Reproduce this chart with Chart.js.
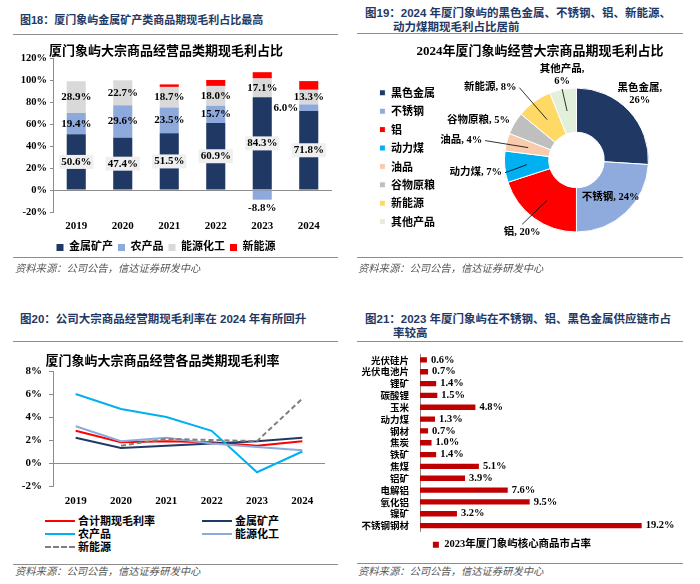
<!DOCTYPE html>
<html>
<head>
<meta charset="utf-8">
<script src="https://cdn.jsdelivr.net/npm/chart.js@4.4.1/dist/chart.umd.min.js"></script>
<style>
  body { margin: 0; width: 700px; height: 584px; overflow: hidden; background: #fff; position: relative;
         font-family: "Liberation Serif", "Noto Sans CJK SC", serif; }
  .ttl { position: absolute; color: #1F3864; font-weight: bold; font-size: 11.5px; line-height: 14px;
         font-family: "Liberation Sans", "Noto Sans CJK SC", sans-serif; white-space: nowrap; }
  .rule { position: absolute; height: 0; border-top: 1.5px solid #8c8c8c; }
  .src { position: absolute; font-style: italic; color: #555; font-size: 10.3px; line-height: 12px;
         font-family: "Noto Sans CJK SC", sans-serif; }
  .cv { position: absolute; }
  .lg { position: absolute; font: bold 11px "Noto Sans CJK SC", sans-serif; color: #000; line-height: 13px; }
  .lg span.ln { position: absolute; width: 30px; top: 6px; border-top: 2.5px solid; }
  .lg span.tx { position: absolute; left: 33px; top: 0; white-space: nowrap; }
</style>
</head>
<body>

<div class="ttl" style="left:20px;top:13px;font-size:11px;">图18：厦门象屿金属矿产类商品期现毛利占比最高</div>
<div class="rule" style="left:13px;top:34px;width:325px;"></div>
<div class="cv" style="left:0;top:38px;"><canvas id="shareChart" width="345" height="225"></canvas></div>
<div class="rule" style="left:13px;top:257px;width:325px;"></div>
<div class="src" style="left:15px;top:262px;">资料来源：公司公告，信达证券研发中心</div>

<div class="ttl" style="left:365px;top:6px;">图19：2024 年厦门象屿的黑色金属、不锈钢、铝、新能源、<br><span style="padding-left:28px">动力煤期现毛利占比居前</span></div>
<div class="rule" style="left:357px;top:33px;width:326px;"></div>
<div class="cv" style="left:350px;top:38px;"><canvas id="pieChart" width="360" height="218"></canvas></div>
<div class="rule" style="left:357px;top:257px;width:326px;"></div>
<div class="src" style="left:358px;top:262px;">资料来源：公司公告，信达证券研发中心</div>

<div class="ttl" style="left:20px;top:312px;">图20：公司大宗商品经营期现毛利率在 2024 年有所回升</div>
<div class="rule" style="left:13px;top:341px;width:325px;"></div>
<div class="cv" style="left:0;top:345px;"><canvas id="marginChart" width="345" height="165"></canvas></div>
<div class="lg" style="left:45px;top:514px;">
  <div style="position:absolute;left:0;top:0;"><span class="ln" style="border-color:#FF0000"></span><span class="tx">合计期现毛利率</span></div>
  <div style="position:absolute;left:157px;top:0;"><span class="ln" style="border-color:#1F3864"></span><span class="tx">金属矿产</span></div>
  <div style="position:absolute;left:0;top:13px;"><span class="ln" style="border-color:#00B0F0"></span><span class="tx">农产品</span></div>
  <div style="position:absolute;left:157px;top:13px;"><span class="ln" style="border-color:#8EA9DB"></span><span class="tx">能源化工</span></div>
  <div style="position:absolute;left:0;top:26px;"><span class="ln" style="border-color:#7F7F7F;border-top-style:dashed"></span><span class="tx">新能源</span></div>
</div>
<div class="rule" style="left:13px;top:564px;width:325px;"></div>
<div class="src" style="left:15px;top:565px;">资料来源：公司公告，信达证券研发中心</div>

<div class="ttl" style="left:365px;top:312px;">图21：2023 年厦门象屿在不锈钢、铝、黑色金属供应链市占<br><span style="padding-left:28px">率较高</span></div>
<div class="rule" style="left:357px;top:341px;width:326px;"></div>
<div class="cv" style="left:350px;top:345px;"><canvas id="marketChart" width="350" height="215"></canvas></div>
<div class="rule" style="left:357px;top:563px;width:326px;"></div>
<div class="src" style="left:358px;top:565px;">资料来源：公司公告，信达证券研发中心</div>

<script>
// 图18 stacked shares
var years = ["2019", "2020", "2021", "2022", "2023", "2024"];
var metalShare = [50.6, 47.4, 51.5, 60.9, 84.3, 71.8];
var agriShare = [19.4, 29.6, 23.5, 15.7, -8.8, 6.0];
var energyShare = [28.9, 22.7, 18.7, 18.0, 17.1, 13.3];
var newEnergyShare = [0, 0, 2.3, 5.4, 5.7, 7.9];

// 图19 doughnut
var pieLabels = ["黑色金属", "不锈钢", "铝", "动力煤", "油品", "谷物原粮", "新能源", "其他产品"];
var pieValues = [26, 24, 20, 7, 4, 5, 8, 6];

// 图20 margins
var totalMargin = [2.8, 1.8, 1.9, 1.8, 1.5, 1.9];
var metalMargin = [2.2, 1.3, 1.5, 1.7, 1.9, 2.2];
var agriMargin = [6.0, 4.7, 4.0, 2.8, -0.8, 1.0];
var energyMargin = [3.2, 1.9, 2.2, 1.7, 1.4, 1.1];
var newEnergyMargin = [null, 1.5, 2.1, 2.0, 1.9, 5.6];

// 图21 market share
var products = ["光伏硅片", "光伏电池片", "锂矿", "碳酸锂", "玉米", "动力煤", "钢材", "焦炭", "铁矿", "焦煤", "铝矿", "电解铝", "氧化铝", "镍矿", "不锈钢钢材"];
var marketShare = [0.6, 0.7, 1.4, 1.5, 4.8, 1.3, 0.7, 1.0, 1.4, 5.1, 3.9, 7.6, 9.5, 3.2, 19.2];

Chart.defaults.font.family = '"Liberation Serif", "Noto Sans CJK SC", serif';
Chart.defaults.color = "#000";
Chart.defaults.animation = false;

var axisGrey = "#8c8c8c";
var zeroLine = function (c) { return c.tick.value === 0 ? axisGrey : "rgba(0,0,0,0)"; };

// labels inside stacked bars
var shareLabels = {
  id: "shareLabels",
  afterDatasetsDraw: function (chart) {
    var ctx = chart.ctx;
    ctx.save();
    ctx.font = 'bold 11px "Liberation Serif"';
    ctx.textBaseline = "middle";
    chart.data.datasets.forEach(function (ds, i) {
      if (ds.noLabel) return;
      chart.getDatasetMeta(i).data.forEach(function (bar, j) {
        var v = ds.data[j];
        var txt = v.toFixed(1) + "%";
        var x = bar.x, y = (bar.y + bar.base) / 2;
        ctx.textAlign = "center";
        if (v < 0 && v > -10) {
          y = bar.y + 8;
        } else if (v > 0 && v < 10) {
          x = bar.x - bar.width / 2 - 1;
          ctx.textAlign = "right";
        }
        if (ds.boxed) {
          var w = ctx.measureText(txt).width + 4;
          ctx.fillStyle = "#EFEFEF";
          ctx.fillRect(x - w / 2, y - 7, w, 14);
        }
        ctx.fillStyle = "#000";
        ctx.fillText(txt, x, y);
      });
    });
    ctx.restore();
  }
};

new Chart(document.getElementById("shareChart").getContext("2d"), {
  type: "bar",
  data: {
    labels: years,
    datasets: [
      { label: "金属矿产", data: metalShare, backgroundColor: "#1F3864", boxed: true },
      { label: "农产品", data: agriShare, backgroundColor: "#8EA9DB" },
      { label: "能源化工", data: energyShare, backgroundColor: "#D9D9D9" },
      { label: "新能源", data: newEnergyShare, backgroundColor: "#FF0000", noLabel: true },
    ],
  },
  options: {
    responsive: false,
    layout: { padding: { left: 0, right: 13, top: 0, bottom: 0 } },
    datasets: { bar: { barPercentage: 0.41, categoryPercentage: 1 } },
    scales: {
      x: {
        stacked: true,
        grid: { display: false },
        border: { display: false },
        ticks: { font: { size: 11, weight: "bold" }, padding: 0 },
        afterFit: function (s) { s.height = 25; },
      },
      y: {
        stacked: true,
        min: -20, max: 120,
        ticks: { stepSize: 20, font: { size: 10.5, weight: "bold" }, padding: 3,
                 callback: function (v) { return v + "%"; } },
        grid: { color: zeroLine, tickColor: axisGrey, tickLength: 3 },
        border: { display: true, color: axisGrey },
        afterFit: function (s) { s.width = 53; },
      },
    },
    plugins: {
      title: { display: true, text: "厦门象屿大宗商品经营品类期现毛利占比",
               font: { size: 13, weight: "bold", lineHeight: 1 }, padding: { top: 7, bottom: 0 } },
      legend: { position: "bottom",
                labels: { boxWidth: 7, boxHeight: 7, padding: 5, font: { size: 11, weight: "bold" } } },
      tooltip: { enabled: false },
    },
  },
  plugins: [shareLabels],
});

// doughnut labels with leader lines
var pieTextOffsets = [[27, -32], [0, 1], [-25, 32], [-51, 8], [-67, -7], [-55, -14], [-57, -32], [-5, -36]];
var pieLeader = [false, false, true, true, true, false, true, true];
var pieLabelPlugin = {
  id: "pieLabelPlugin",
  afterDatasetsDraw: function (chart) {
    var ctx = chart.ctx;
    ctx.save();
    ctx.font = 'bold 10.5px "Liberation Serif", "Noto Sans CJK SC"';
    ctx.textAlign = "center";
    ctx.textBaseline = "middle";
    chart.getDatasetMeta(0).data.forEach(function (arc, i) {
      var p = arc.getCenterPoint();
      var off = pieTextOffsets[i];
      var lx = p.x + off[0], ly = p.y + off[1];
      var lines = (i === 0 || i === 7)
        ? [pieLabels[i] + ",", pieValues[i] + "%"]
        : [pieLabels[i] + ", " + pieValues[i] + "%"];
      var w = 0;
      lines.forEach(function (t) { w = Math.max(w, ctx.measureText(t).width); });
      var h = lines.length * 12;
      if (pieLeader[i]) {
        var ex, ey;
        if (Math.abs(off[0]) > Math.abs(off[1])) {
          ex = lx + (off[0] < 0 ? w / 2 + 3 : -w / 2 - 3); ey = ly;
        } else {
          ex = lx; ey = ly + (off[1] < 0 ? h / 2 + 2 : -h / 2 - 2);
        }
        ctx.strokeStyle = "#000";
        ctx.lineWidth = 0.8;
        ctx.beginPath();
        ctx.moveTo(p.x, p.y);
        ctx.lineTo(ex, ey);
        ctx.stroke();
      }
      ctx.fillStyle = "#000";
      lines.forEach(function (t, k) {
        ctx.fillText(t, lx, ly - h / 2 + 6 + k * 12);
      });
    });
    ctx.restore();
  }
};

new Chart(document.getElementById("pieChart").getContext("2d"), {
  type: "doughnut",
  data: {
    labels: pieLabels,
    datasets: [{
      data: pieValues,
      backgroundColor: ["#203864", "#8FAADC", "#FF0000", "#00B0F0", "#F8CBAD", "#BFBFBF", "#FFD966", "#E2EFDA"],
      borderColor: "#fff",
      borderWidth: 1,
      radius: 72,
      cutout: 36,
    }],
  },
  options: {
    responsive: false,
    layout: { padding: { left: 22, right: 2, top: 0, bottom: 2 } },
    plugins: {
      title: { display: true, text: "2024年厦门象屿经营大宗商品期现毛利占比",
               font: { size: 13, weight: "bold", lineHeight: 1 }, padding: { top: 7, bottom: 8 } },
      legend: { position: "left",
                title: { display: true, text: " ", font: { size: 12 }, padding: 4 },
                labels: { boxWidth: 6, boxHeight: 6, padding: 7.4,
                          font: { size: 11, weight: "bold", family: '"Noto Sans CJK SC"' } } },
      tooltip: { enabled: false },
    },
  },
  plugins: [pieLabelPlugin],
});

new Chart(document.getElementById("marginChart").getContext("2d"), {
  type: "line",
  data: {
    labels: years,
    datasets: [
      { label: "新能源", data: newEnergyMargin, borderColor: "#7F7F7F", borderDash: [5, 3] },
      { label: "能源化工", data: energyMargin, borderColor: "#8EA9DB" },
      { label: "农产品", data: agriMargin, borderColor: "#00B0F0" },
      { label: "金属矿产", data: metalMargin, borderColor: "#1F3864" },
      { label: "合计期现毛利率", data: totalMargin, borderColor: "#FF0000" },
    ],
  },
  options: {
    responsive: false,
    layout: { padding: { left: 0, right: 20, top: 0, bottom: 0 } },
    elements: { point: { radius: 0 }, line: { borderWidth: 2, tension: 0 } },
    scales: {
      x: {
        offset: true,
        grid: { display: false },
        border: { display: false },
        ticks: { font: { size: 11, weight: "bold" }, padding: 1 },
        afterFit: function (s) { s.height = 24; },
      },
      y: {
        min: -2, max: 8,
        ticks: { stepSize: 2, font: { size: 11, weight: "bold" }, padding: 7,
                 callback: function (v) { return v + "%"; } },
        grid: { color: zeroLine, tickColor: axisGrey, tickLength: 4 },
        border: { display: true, color: axisGrey },
        afterFit: function (s) { s.width = 53; },
      },
    },
    plugins: {
      title: { display: true, text: "厦门象屿大宗商品经营各品类期现毛利率",
               font: { size: 13, weight: "bold", lineHeight: 1 }, padding: { top: 10, bottom: 3 } },
      legend: { display: false },
      tooltip: { enabled: false },
    },
  },
});

var valueLabels = {
  id: "valueLabels",
  afterDatasetsDraw: function (chart) {
    var ctx = chart.ctx;
    ctx.save();
    ctx.font = 'bold 10.5px "Liberation Serif"';
    ctx.textAlign = "left";
    ctx.textBaseline = "middle";
    ctx.fillStyle = "#000";
    chart.getDatasetMeta(0).data.forEach(function (bar, j) {
      ctx.fillText(chart.data.datasets[0].data[j].toFixed(1) + "%", bar.x + 4, bar.y);
    });
    ctx.restore();
  }
};

new Chart(document.getElementById("marketChart").getContext("2d"), {
  type: "bar",
  data: {
    labels: products,
    datasets: [{ label: "2023年厦门象屿核心商品市占率", data: marketShare, backgroundColor: "#C00000" }],
  },
  options: {
    responsive: false,
    indexAxis: "y",
    layout: { padding: { left: 0, right: 26, top: 9, bottom: 0 } },
    datasets: { bar: { barPercentage: 0.45, categoryPercentage: 1 } },
    scales: {
      x: { display: false, min: 0, max: 22 },
      y: {
        grid: { display: false },
        border: { display: true, color: axisGrey },
        ticks: { autoSkip: false, font: { size: 9.5, weight: "bold", family: '"Noto Sans CJK SC"' }, padding: 3 },
        afterFit: function (s) { s.width = 70; },
      },
    },
    plugins: {
      legend: { position: "bottom",
                labels: { boxWidth: 6, boxHeight: 6, padding: 8,
                          font: { size: 10.5, weight: "bold" } } },
      tooltip: { enabled: false },
    },
  },
  plugins: [valueLabels],
});
</script>
</body>
</html>
